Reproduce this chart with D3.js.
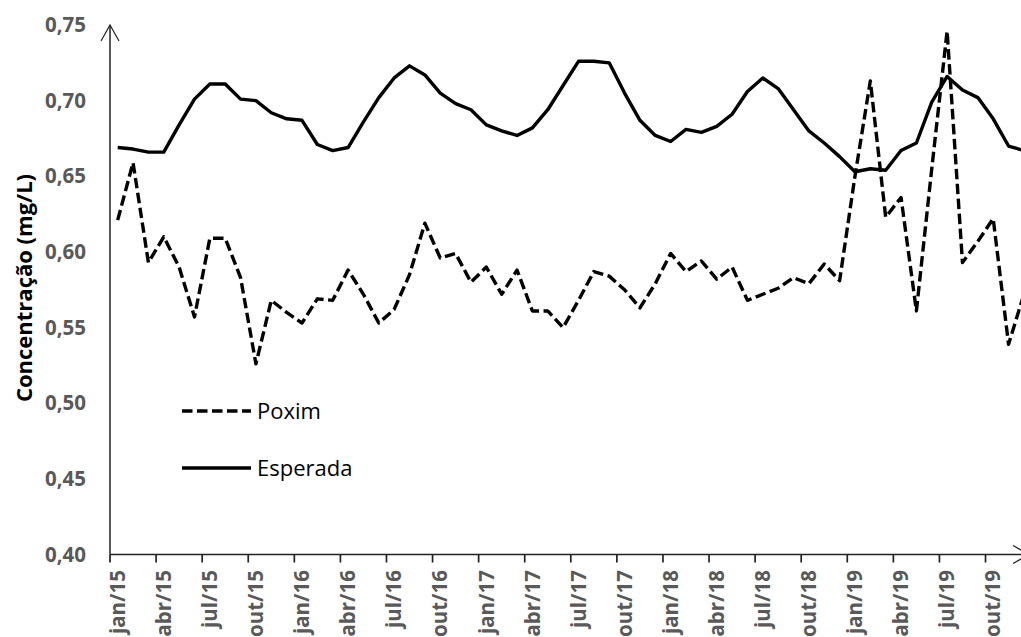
<!DOCTYPE html>
<html>
<head>
<meta charset="utf-8">
<script src="https://cdn.jsdelivr.net/npm/d3@7/dist/d3.min.js"></script>
<style>
  html, body { margin: 0; padding: 0; background: #fff; }
  svg { display: block; }
</style>
</head>
<body>
<svg id="chart" width="1021" height="637"></svg>
<script>
// ---- data ----
const monthNames = ["jan","fev","mar","abr","mai","jun","jul","ago","set","out","nov","dez"];
const years = ["15","16","17","18","19"];
const categories = [];
years.forEach(y => monthNames.forEach(m => categories.push(m + "/" + y)));

const poxim = [
  0.621, 0.659, 0.593, 0.610, 0.590, 0.557, 0.609, 0.609, 0.583, 0.526, 0.568, 0.560,
  0.553, 0.569, 0.568, 0.588, 0.572, 0.553, 0.562, 0.585, 0.619, 0.596, 0.599, 0.580,
  0.590, 0.572, 0.588, 0.561, 0.561, 0.550, 0.568, 0.587, 0.584, 0.575, 0.563, 0.579,
  0.599, 0.587, 0.594, 0.582, 0.590, 0.568, 0.572, 0.576, 0.583, 0.579, 0.592, 0.581,
  0.650, 0.713, 0.623, 0.636, 0.561, 0.655, 0.746, 0.593, 0.607, 0.622, 0.539, 0.572
];
const esperada = [
  0.669, 0.668, 0.666, 0.666, 0.684, 0.701, 0.711, 0.711, 0.701, 0.700, 0.692, 0.688,
  0.687, 0.671, 0.667, 0.669, 0.686, 0.702, 0.715, 0.723, 0.717, 0.705, 0.698, 0.694,
  0.684, 0.680, 0.677, 0.682, 0.694, 0.710, 0.726, 0.726, 0.725, 0.705, 0.687, 0.677,
  0.673, 0.681, 0.679, 0.683, 0.691, 0.706, 0.715, 0.708, 0.694, 0.680, 0.672, 0.663,
  0.653, 0.655, 0.654, 0.667, 0.672, 0.699, 0.716, 0.707, 0.702, 0.688, 0.670, 0.667
];
const yTicks = [0.40, 0.45, 0.50, 0.55, 0.60, 0.65, 0.70, 0.75];
const tickEvery = 3;
const seriesNames = ["Poxim", "Esperada"];
const yTitle = "Concentração (mg/L)";

// ---- layout ----
const svg = d3.select("#chart");
const x0 = 110, bandW = 15.36;
const x = d3.scaleBand().domain(categories).range([x0, x0 + categories.length * bandW]).padding(0);
const y = d3.scaleLinear().domain([0.40, 0.75]).range([554.5, 25]);
const cx = c => x(c) + x.bandwidth() / 2;
const axisY = y(0.40);
const fmt = v => v.toFixed(2).replace(".", ",");
const lineW = 3.4, dash = "10.5,4.5";

// y tick labels (no tick marks)
svg.append("g").selectAll("text").data(yTicks).join("text")
  .attr("x", 86).attr("y", d => y(d)).attr("dy", "0.35em")
  .attr("text-anchor", "end")
  .attr("font-family", "'Open Sans', sans-serif").attr("font-weight", "bold")
  .attr("font-size", 20.5).attr("fill", "#595959")
  .text(fmt);

// y title
svg.append("text")
  .attr("transform", "translate(32,288) rotate(-90)")
  .attr("text-anchor", "middle")
  .attr("font-family", "'Open Sans', sans-serif").attr("font-weight", "bold")
  .attr("font-size", 22).attr("fill", "#000")
  .text(yTitle);

// x axis with ticks at category boundaries
const tickCats = categories.filter((c, i) => i % tickEvery === 0);
const xAxis = d3.axisBottom(x).tickValues(tickCats).tickSize(8).tickFormat("");
const gx = svg.append("g").attr("transform", `translate(0,${axisY})`).call(xAxis);
gx.select(".domain").remove();
gx.selectAll(".tick").attr("transform", d => `translate(${x(d)},0)`);
gx.selectAll(".tick line").attr("stroke", "#222").attr("stroke-width", 1.7);

// x labels centred on category
svg.append("g").selectAll("text").data(tickCats).join("text")
  .attr("transform", d => `translate(${cx(d)},570) rotate(-90)`)
  .attr("text-anchor", "end").attr("dy", "0.35em")
  .attr("font-family", "'Open Sans', sans-serif").attr("font-weight", "bold")
  .attr("font-size", 20.5).attr("fill", "#595959")
  .text(d => d);

// axis lines with open arrows
const axisCol = "#222";
svg.append("line").attr("x1", x0).attr("x2", x0).attr("y1", axisY).attr("y2", 25)
  .attr("stroke", axisCol).attr("stroke-width", 1.5);
svg.append("path").attr("d", `M${x0 - 9},41 L${x0},25 L${x0 + 9},41`)
  .attr("fill", "none").attr("stroke", axisCol).attr("stroke-width", 1.2);
svg.append("line").attr("x1", x0).attr("x2", 1029).attr("y1", axisY).attr("y2", axisY)
  .attr("stroke", axisCol).attr("stroke-width", 1.7);
svg.append("path").attr("d", `M1013,${axisY - 9} L1029,${axisY} L1013,${axisY + 9}`)
  .attr("fill", "none").attr("stroke", axisCol).attr("stroke-width", 1.2);

// lines
const line = d3.line().x((d, i) => cx(categories[i])).y(d => y(d));
svg.append("path").datum(esperada).attr("d", line)
  .attr("fill", "none").attr("stroke", "#000").attr("stroke-width", lineW)
  .attr("stroke-linejoin", "round");
svg.append("path").datum(poxim).attr("d", line)
  .attr("fill", "none").attr("stroke", "#000").attr("stroke-width", lineW)
  .attr("stroke-linejoin", "round").attr("stroke-dasharray", dash);

// legend
const legend = [
  { name: seriesNames[0], dash: dash, y: 411 },
  { name: seriesNames[1], dash: null, y: 468 }
];
const lg = svg.append("g").selectAll("g").data(legend).join("g");
lg.append("line").attr("x1", 182).attr("x2", 251).attr("y1", d => d.y).attr("y2", d => d.y)
  .attr("stroke", "#000").attr("stroke-width", lineW)
  .attr("stroke-dasharray", d => d.dash);
lg.append("text").attr("x", 257).attr("y", d => d.y).attr("dy", "0.36em")
  .attr("font-family", "'Open Sans', sans-serif").attr("font-size", 22).attr("fill", "#000")
  .text(d => d.name);
</script>
</body>
</html>
